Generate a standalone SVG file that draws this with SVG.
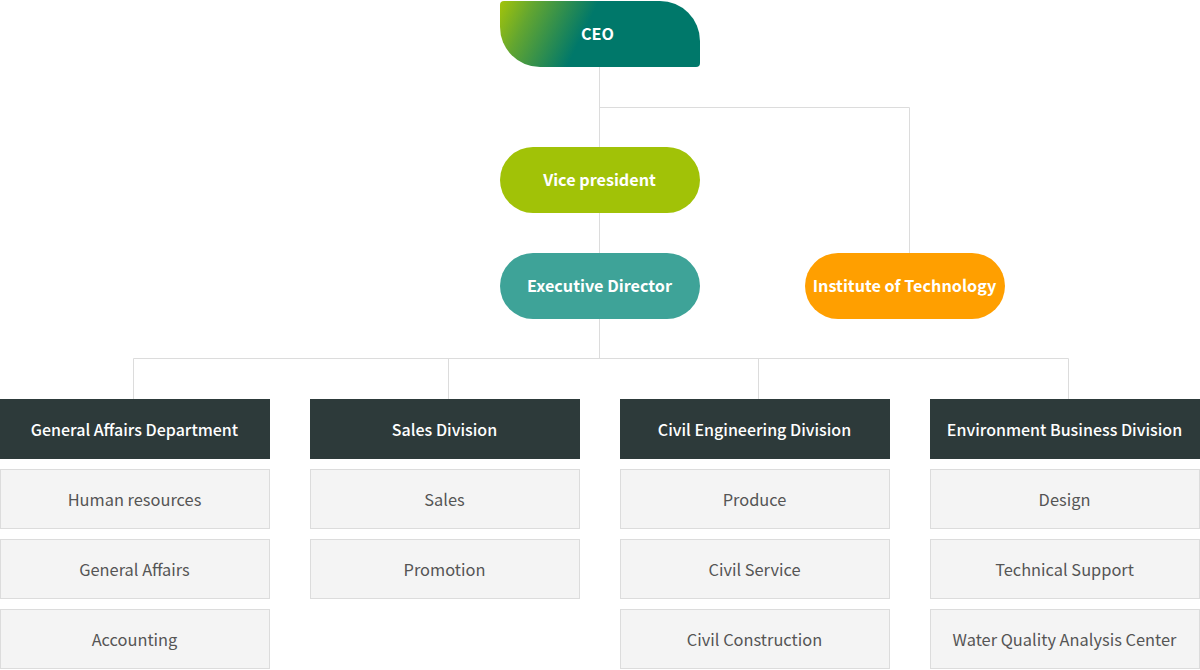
<svg xmlns="http://www.w3.org/2000/svg" width="1200" height="670" viewBox="0 0 1200 670">
<defs>
<linearGradient id="ceoGrad" x1="500" y1="1" x2="580" y2="40" gradientUnits="userSpaceOnUse">
<stop offset="0" stop-color="#a3c40a"/>
<stop offset="0.35" stop-color="#63a630"/>
<stop offset="1" stop-color="#00786a"/>
</linearGradient>
<style>
.ln{fill:none;stroke:#dcdcdc;stroke-width:1}
.nt{font-family:"Noto Sans CJK KR","Noto Sans",sans-serif;font-size:16.2px;font-weight:bold;fill:#fff;text-anchor:middle;dominant-baseline:central}
.hd{fill:#2d3a3a}
.ht{font-family:"Noto Sans CJK KR","Noto Sans",sans-serif;font-size:16px;font-weight:500;fill:#fff;text-anchor:middle;dominant-baseline:central}
.sb{fill:#f4f4f4;stroke:#dcdcdc;stroke-width:1}
.st{font-family:"Noto Sans CJK KR","Noto Sans",sans-serif;font-size:16.4px;fill:#555;text-anchor:middle;dominant-baseline:central}
</style>
</defs>
<rect width="1200" height="670" fill="#fff"/>
<g id="connectors">
<path class="ln" d="M599.5 67V147M599.5 107.5H909.5V253M599.5 213V253M599.5 319V358.5M133.5 358.5H1068.5M133.5 358.5V399M448.5 358.5V399M758.5 358.5V399M1068.5 358.5V399"/>
</g>
<g id="ceo">
<path d="M504 1H660A40 40 0 0 1 700 41V63A4 4 0 0 1 696 67H540A40 40 0 0 1 500 27V5A4 4 0 0 1 504 1Z" fill="url(#ceoGrad)"/>
<text class="nt" x="597.5" y="33">CEO</text>
</g>
<g id="vice-president">
<rect x="500" y="147" width="200" height="66" rx="33" fill="#a1c207"/>
<text class="nt" x="599.5" y="179">Vice president</text>
</g>
<g id="executive-director">
<rect x="500" y="253" width="200" height="66" rx="33" fill="#3ea398"/>
<text class="nt" x="599.5" y="285">Executive Director</text>
</g>
<g id="institute">
<rect x="805" y="253" width="200" height="66" rx="33" fill="#ff9f00"/>
<text class="nt" x="904.5" y="285">Institute of Technology</text>
</g>
<g id="general-affairs-department">
<rect class="hd" x="0" y="399" width="270" height="60"/>
<text class="ht" x="134.5" y="429">General Affairs Department</text>
</g>
<g id="human-resources"><rect class="sb" x="0.5" y="469.5" width="269" height="59"/><text class="st" x="134.5" y="499">Human resources</text></g>
<g id="general-affairs"><rect class="sb" x="0.5" y="539.5" width="269" height="59"/><text class="st" x="134.5" y="569">General Affairs</text></g>
<g id="accounting"><rect class="sb" x="0.5" y="609.5" width="269" height="59"/><text class="st" x="134.5" y="639">Accounting</text></g>
<g id="sales-division">
<rect class="hd" x="310" y="399" width="270" height="60"/>
<text class="ht" x="444.5" y="429">Sales Division</text>
</g>
<g id="sales"><rect class="sb" x="310.5" y="469.5" width="269" height="59"/><text class="st" x="444.5" y="499">Sales</text></g>
<g id="promotion"><rect class="sb" x="310.5" y="539.5" width="269" height="59"/><text class="st" x="444.5" y="569">Promotion</text></g>
<g id="civil-engineering-division">
<rect class="hd" x="620" y="399" width="270" height="60"/>
<text class="ht" x="754.5" y="429">Civil Engineering Division</text>
</g>
<g id="produce"><rect class="sb" x="620.5" y="469.5" width="269" height="59"/><text class="st" x="754.5" y="499">Produce</text></g>
<g id="civil-service"><rect class="sb" x="620.5" y="539.5" width="269" height="59"/><text class="st" x="754.5" y="569">Civil Service</text></g>
<g id="civil-construction"><rect class="sb" x="620.5" y="609.5" width="269" height="59"/><text class="st" x="754.5" y="639">Civil Construction</text></g>
<g id="environment-business-division">
<rect class="hd" x="930" y="399" width="270" height="60"/>
<text class="ht" x="1064.5" y="429">Environment Business Division</text>
</g>
<g id="design"><rect class="sb" x="930.5" y="469.5" width="269" height="59"/><text class="st" x="1064.5" y="499">Design</text></g>
<g id="technical-support"><rect class="sb" x="930.5" y="539.5" width="269" height="59"/><text class="st" x="1064.5" y="569">Technical Support</text></g>
<g id="water-quality"><rect class="sb" x="930.5" y="609.5" width="269" height="59"/><text class="st" x="1064.5" y="639">Water Quality Analysis Center</text></g>
</svg>
